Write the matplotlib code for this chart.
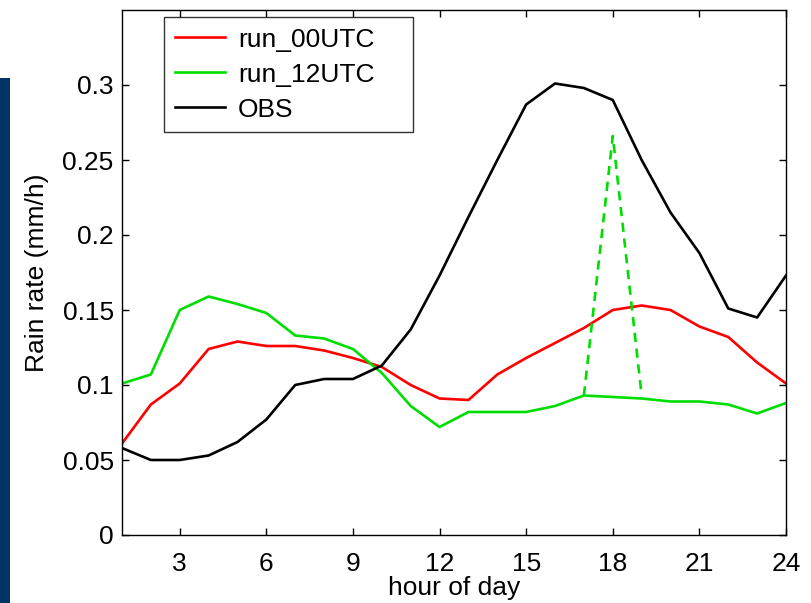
import numpy as np
import matplotlib
matplotlib.use('Agg')
import matplotlib.pyplot as plt
from matplotlib.patches import Rectangle

# Datos
hours = list(range(1, 25))
run_00utc = [0.061, 0.087, 0.101, 0.124, 0.129, 0.126, 0.126, 0.123, 0.118, 0.112,
             0.100, 0.091, 0.090, 0.107, 0.118, 0.128, 0.138, 0.150, 0.153, 0.150,
             0.139, 0.132, 0.115, 0.101]
run_12utc = [0.101, 0.107, 0.150, 0.159, 0.154, 0.148, 0.133, 0.131, 0.124, 0.108,
             0.086, 0.072, 0.082, 0.082, 0.082, 0.086, 0.093, 0.092, 0.091, 0.089,
             0.089, 0.087, 0.081, 0.088]
obs = [0.058, 0.050, 0.050, 0.053, 0.062, 0.077, 0.100, 0.104, 0.104, 0.113,
       0.137, 0.173, 0.212, 0.250, 0.287, 0.301, 0.298, 0.290, 0.250, 0.215,
       0.188, 0.151, 0.145, 0.173]
# pico aislado (linea discontinua)
spike_hours = [17, 18, 19]
spike_vals = [0.093, 0.266, 0.093]

xticks = [3, 6, 9, 12, 15, 18, 21, 24]
yticks = [0, 0.05, 0.1, 0.15, 0.2, 0.25, 0.3]
ytick_labels = ['0', '0.05', '0.1', '0.15', '0.2', '0.25', '0.3']

plt.rcParams['font.family'] = ['Liberation Sans', 'DejaVu Sans']

fig = plt.figure(figsize=(8.12, 6.03), dpi=100)
fig.patch.set_facecolor('white')
# barra azul del fondo de la diapositiva
fig.patches.append(Rectangle((0, 0), 10 / 812, 1 - 78 / 603, transform=fig.transFigure,
                             facecolor='#003366', edgecolor='none', zorder=0))

ax = fig.add_axes([122 / 812, 68 / 603, 664 / 812, 525 / 603])
green = '#00dd00'
lw = 1.9
ax.plot(hours, run_00utc, color='#ff0000', lw=lw, label='run_00UTC')
ax.plot(hours, run_12utc, color=green, lw=lw, label='run_12UTC')
ax.plot(hours, obs, color='black', lw=lw, label='OBS')
ax.plot(spike_hours, spike_vals, color=green, lw=lw, ls=(0, (3.5, 2.5)))

ax.set_xlim(1, 24)
ax.set_ylim(0, 0.35)
ax.set_xticks(xticks)
ax.set_yticks(yticks)
ax.set_yticklabels(ytick_labels)
ax.tick_params(direction='in', top=True, right=True, length=5, width=1,
               labelsize=19)
ax.tick_params(axis='y', pad=6)
ax.tick_params(axis='x', pad=12)
for s in ax.spines.values():
    s.set_linewidth(1)

ax.set_xlabel('hour of day', fontsize=19, labelpad=0)
ax.set_ylabel('Rain rate (mm/h)', fontsize=19, labelpad=10)

leg_h = 116 / 525
leg = ax.legend(loc='upper left', bbox_to_anchor=(42 / 664, 1 - 7 / 525 - leg_h, 249 / 664, leg_h),
                mode='expand', fontsize=19, frameon=True, fancybox=False, borderaxespad=0,
                handlelength=1.9, labelspacing=0.42, borderpad=0.4, handletextpad=0.5)
leg.get_frame().set_edgecolor('black')
leg.get_frame().set_linewidth(1)

fig.savefig('out.png', dpi=100)
